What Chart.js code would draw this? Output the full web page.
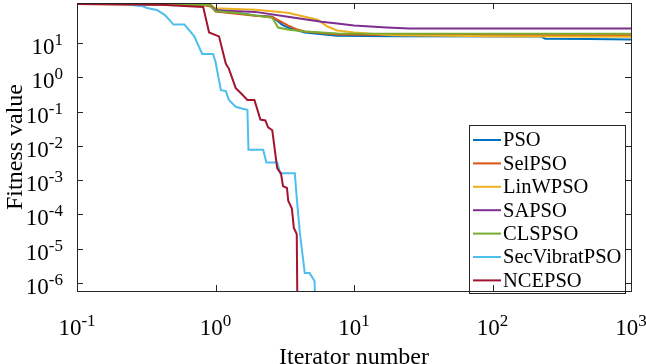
<!DOCTYPE html>
<html>
<head>
<meta charset="utf-8">
<script src="https://cdn.jsdelivr.net/npm/chart.js@4.4.1/dist/chart.umd.min.js"></script>
<style>
  html, body { margin: 0; padding: 0; background: #fff; }
  #wrap { width: 646px; height: 364px; position: relative; }
</style>
</head>
<body>
<div id="wrap"><canvas id="chart"></canvas></div>
<script>
// series: [iteration, fitness]
const seriesNames = ['PSO', 'SelPSO', 'LinWPSO', 'SAPSO', 'CLSPSO', 'SecVibratPSO', 'NCEPSO'];
const seriesColors = ['#0072BD', '#D95319', '#EDB120', '#7E2F8E', '#77AC30', '#4DBEEE', '#A2142F'];

const psoPts = [[0.1,150],[0.5,148],[0.85,142],[0.93,125],[1.0,95],[1.94,64],[2.57,59],[3.02,35],[3.33,28.6],[4.41,20.6],[7.57,16.5],[20,15.8],[225,15.6],[240,13.5],[500,13.2],[1000,12.9]];
const selPts = [[0.1,140],[0.8,130],[0.95,115],[1.0,84],[1.94,63],[2.57,58],[3.33,33],[3.9,25],[4.41,22],[7.57,18],[20,17.2],[1000,16.9]];
const linPts = [[0.1,148],[0.9,142],[1.0,105],[1.94,94],[3.33,77],[4.41,59],[5.46,48.5],[6.43,30.7],[7.57,23.5],[10,20.6],[19.3,16.9],[100,15.8],[1000,15.3]];
const saPts = [[0.1,145],[0.9,135],[1.0,92],[1.94,82],[3.33,59],[5.82,42.5],[7.57,37.3],[10,32.7],[17.2,28.6],[25,26.8],[1000,26.8]];
const clsPts = [[0.1,142],[0.9,130],[1.0,85],[1.4,77],[2.57,55],[2.83,28.6],[3.33,25.1],[4.41,22],[7.57,19.3],[1000,19]];
const secPts = [[0.1,150],[0.2,145],[0.3,120],[0.32,107],[0.377,93.6],[0.43,67.4],[0.498,34.9],[0.597,34.9],[0.703,15.8],[0.801,4.85],[0.96,4.85],[1.0,2.87],[1.094,0.425],[1.188,0.398],[1.248,0.22],[1.40,0.139],[1.57,0.122],[1.70,0.114],[1.73,0.00769],[2.21,0.00769],[2.33,0.00327],[2.79,0.00327],[2.93,0.00158],[3.74,0.00158],[3.86,3.06e-4],[4.06,3.06e-5],[4.41,1.93e-6],[4.78,1.93e-6],[5.19,1.14e-6],[5.36,1e-8]];
const ncePts = [[0.1,139],[0.4,132],[0.815,114],[0.899,20.6],[1.06,15.8],[1.188,2.51],[1.248,1.81],[1.40,0.485],[1.52,0.349],[1.70,0.22],[1.91,0.22],[2.11,0.059],[2.29,0.0553],[2.40,0.0349],[2.57,0.0286],[2.79,0.0022],[2.97,0.00158],[3.07,6.74e-4],[3.28,5.9e-4],[3.35,2.51e-4],[3.56,1.48e-4],[3.68,3.98e-5],[3.74,3.49e-5],[3.86,2.68e-5],[3.93,1e-8]];

const allPts = [psoPts, selPts, linPts, saPts, clsPts, secPts, ncePts];

const xTickExps = [-1, 0, 1, 2, 3];
const yTickExps = [-6, -5, -4, -3, -2, -1, 0, 1];
const xTitle = 'Iterator number';
const yTitle = 'Fitness value';

const serif = '"Liberation Serif", "Times New Roman", serif';
const axisColor = '#262626';

// "10" with a raised exponent
function drawPow(ctx, exp, x, y, align) {
  const es = String(exp);
  ctx.font = '23px ' + serif;
  const bw = ctx.measureText('10').width;
  ctx.font = '17px ' + serif;
  const ew = ctx.measureText(es).width;
  const left = align === 'center' ? x - (bw + ew) / 2 : x - bw - ew;
  ctx.fillStyle = '#000';
  ctx.textAlign = 'left';
  ctx.textBaseline = 'alphabetic';
  ctx.font = '23px ' + serif;
  ctx.fillText('10', left, y);
  ctx.font = '17px ' + serif;
  ctx.fillText(es, left + bw, y - 9);
}

const frame = {
  id: 'frame',
  afterDraw(chart) {
    const ctx = chart.ctx, a = chart.chartArea;
    const xs = chart.scales.x, ys = chart.scales.y;
    ctx.save();
    // legend box
    const lx = 469, ly = 125, lw = 156, lh = 168;
    ctx.fillStyle = '#fff';
    ctx.fillRect(lx, ly, lw, lh);
    ctx.strokeStyle = axisColor;
    ctx.lineWidth = 1;
    ctx.strokeRect(lx + 0.5, ly + 0.5, lw, lh);
    chart.data.datasets.forEach((ds, i) => {
      const cy = 140 + i * 23.4;
      ctx.strokeStyle = ds.borderColor;
      ctx.lineWidth = 2;
      ctx.beginPath();
      ctx.moveTo(473, cy);
      ctx.lineTo(501, cy);
      ctx.stroke();
      ctx.fillStyle = '#000';
      ctx.font = '20.5px ' + serif;
      ctx.textAlign = 'left';
      ctx.textBaseline = 'middle';
      ctx.fillText(ds.label, 503, cy + 1);
    });

    // box and inward ticks
    ctx.strokeStyle = axisColor;
    ctx.lineWidth = 1;
    ctx.strokeRect(Math.round(a.left) + 0.5, Math.round(a.top) + 0.5, Math.round(a.right - a.left), Math.round(a.bottom - a.top));
    ctx.beginPath();
    xs.ticks.forEach(t => {
      const px = Math.round(xs.getPixelForValue(t.value)) + 0.5;
      ctx.moveTo(px, a.bottom); ctx.lineTo(px, a.bottom - 6);
      ctx.moveTo(px, a.top); ctx.lineTo(px, a.top + 6);
    });
    ys.ticks.forEach(t => {
      const py = Math.round(ys.getPixelForValue(t.value)) + 0.5;
      ctx.moveTo(a.left, py); ctx.lineTo(a.left + 6, py);
      ctx.moveTo(a.right, py); ctx.lineTo(a.right - 6, py);
    });
    ctx.stroke();

    // tick labels
    xs.ticks.forEach(t => drawPow(ctx, Math.round(Math.log10(t.value)), xs.getPixelForValue(t.value), 335, 'center'));
    ys.ticks.forEach(t => drawPow(ctx, Math.round(Math.log10(t.value)), 63, ys.getPixelForValue(t.value) + 11, 'right'));

    // axis titles
    ctx.fillStyle = '#000';
    ctx.font = '24px ' + serif;
    ctx.textAlign = 'center';
    ctx.textBaseline = 'alphabetic';
    ctx.fillText(xTitle, (a.left + a.right) / 2, 364);
    ctx.translate(22, (a.top + a.bottom) / 2);
    ctx.rotate(-Math.PI / 2);
    ctx.fillText(yTitle, 0, 0);
    ctx.restore();
  }
};

new Chart(document.getElementById('chart'), {
  type: 'line',
  data: {
    datasets: seriesNames.map((name, i) => ({
      label: name,
      data: allPts[i].map(p => ({ x: p[0], y: p[1] })),
      borderColor: seriesColors[i],
      backgroundColor: seriesColors[i],
      borderWidth: 2,
      pointRadius: 0,
      tension: 0,
      fill: false,
      order: seriesNames.length - i
    }))
  },
  options: {
    responsive: true,
    maintainAspectRatio: false,
    animation: false,
    devicePixelRatio: 1,
    layout: { padding: { left: 69, right: 15, top: 3, bottom: 65 } },
    plugins: { legend: { display: false }, tooltip: { enabled: false } },
    scales: {
      x: {
        type: 'logarithmic',
        min: 0.1,
        max: 1000,
        grid: { display: false },
        border: { display: false },
        ticks: { display: false },
        afterBuildTicks: s => { s.ticks = xTickExps.map(e => ({ value: Math.pow(10, e) })); }
      },
      y: {
        type: 'logarithmic',
        min: 5.8e-7,
        max: 149,
        grid: { display: false },
        border: { display: false },
        ticks: { display: false },
        afterBuildTicks: s => { s.ticks = yTickExps.map(e => ({ value: Math.pow(10, e) })); }
      }
    }
  },
  plugins: [frame]
});
</script>
</body>
</html>
